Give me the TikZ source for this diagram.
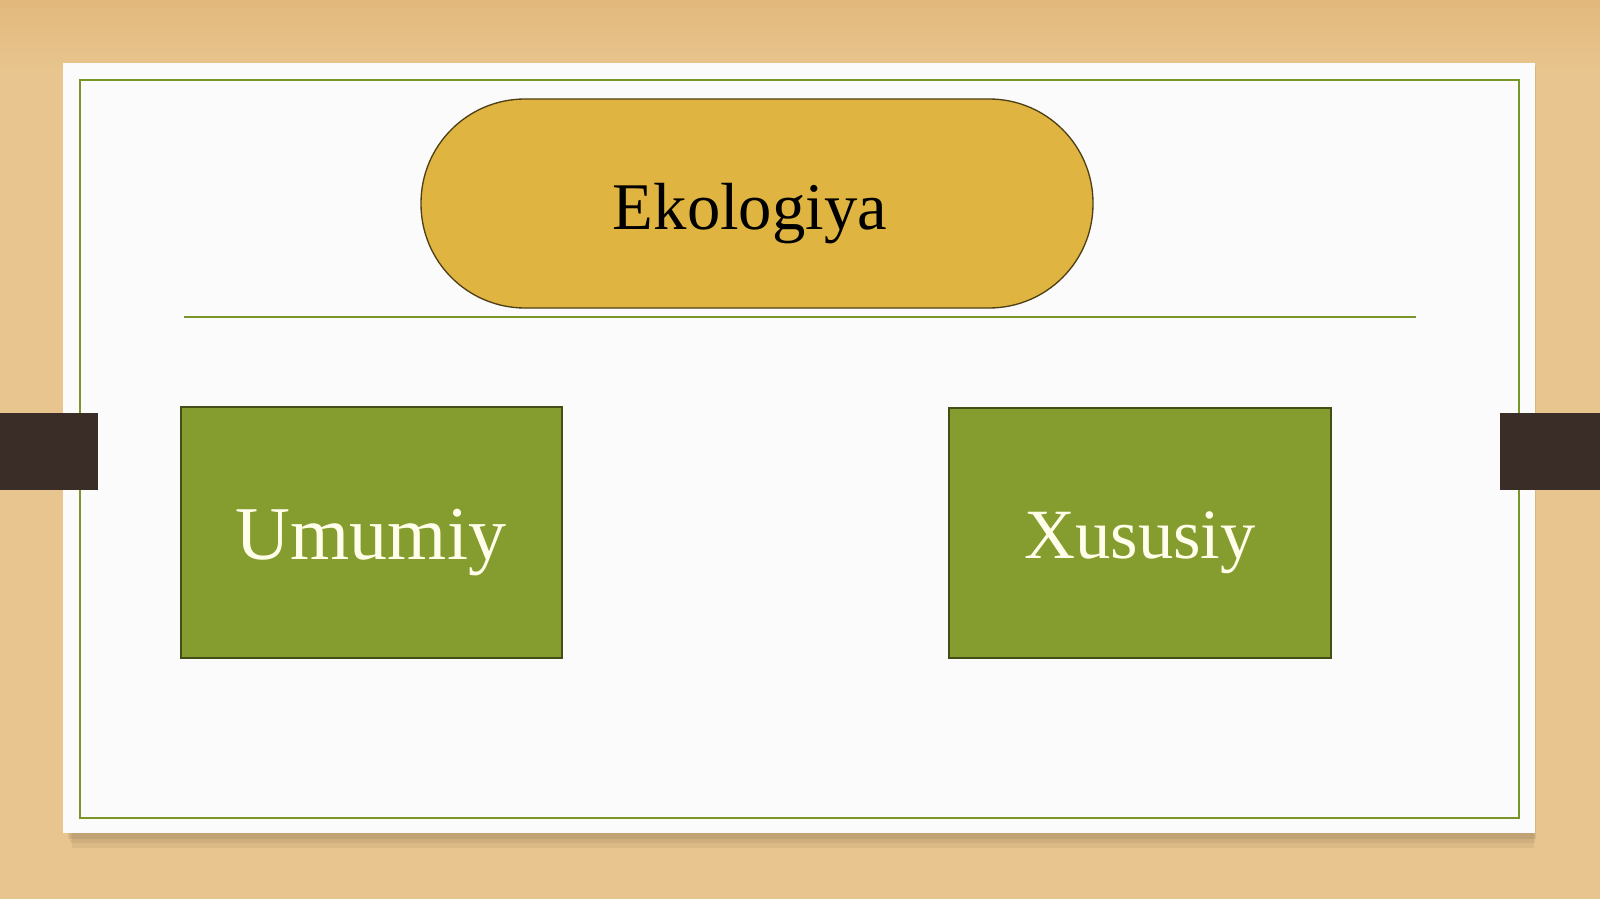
\documentclass[tikz,border=0pt]{standalone}
\usepackage{fontspec}
\setmainfont{Liberation Serif}
\definecolor{woodtan}{RGB}{232,197,142}
\definecolor{woodtop}{RGB}{226,184,124}
\definecolor{cardwhite}{RGB}{251,251,251}
\definecolor{leafgreen}{RGB}{133,156,46}
\definecolor{linegreen}{RGB}{122,150,40}
\definecolor{goldfill}{RGB}{224,180,64}
\definecolor{tabbrown}{RGB}{58,45,40}
\begin{document}
\begin{tikzpicture}[x=0.75pt,y=0.75pt,yscale=-1,xscale=1]
\useasboundingbox (0,0) rectangle (1600,899);

%Shape: Background
\fill [woodtan] (0,0) rectangle (1600,899);
\shade [top color=woodtop, bottom color=woodtan] (0,0) rectangle (1600,70);
%Shape: Card shadow
\fill [black, opacity=0.05] (72,70) rectangle (1534,848);
\fill [black, opacity=0.06] (70,68) rectangle (1535,843);
\fill [black, opacity=0.07] (68,66) rectangle (1536,839);
%Shape: Card
\fill [cardwhite] (63,63) rectangle (1535,833);
%Shape: Frame
\draw [linegreen, line width=1.5] (80,80) rectangle (1519,818);
%Shape: Tabs
\fill [tabbrown] (0,413) rectangle (98,490);
\fill [tabbrown] (1500,413) rectangle (1600,490);
%Shape: Rule
\draw [linegreen, line width=1] (184,317) -- (1416,317);
%Shape: Stadium
\draw [goldfill!35!black, fill=goldfill, line width=1, rounded corners=78pt] (421,99) rectangle (1093,308);
%Shape: Boxes
\draw [leafgreen!50!black, fill=leafgreen, line width=1] (181,407) rectangle (562,658);
\draw [leafgreen!50!black, fill=leafgreen, line width=1] (949,408) rectangle (1331,658);

% Text Node
\node [text=black, font=\fontsize{50}{60}\selectfont] (ekologiya) at (750,214) {Ekologiya};
% Text Node
\node [text=white!92!yellow, font=\fontsize{57}{68}\selectfont] (umumiy) at (371,543) {Umumiy};
% Text Node
\node [text=white!92!yellow, font=\fontsize{53}{64}\selectfont] (xususiy) at (1140,543) {Xususiy};
\end{tikzpicture}
\end{document}
